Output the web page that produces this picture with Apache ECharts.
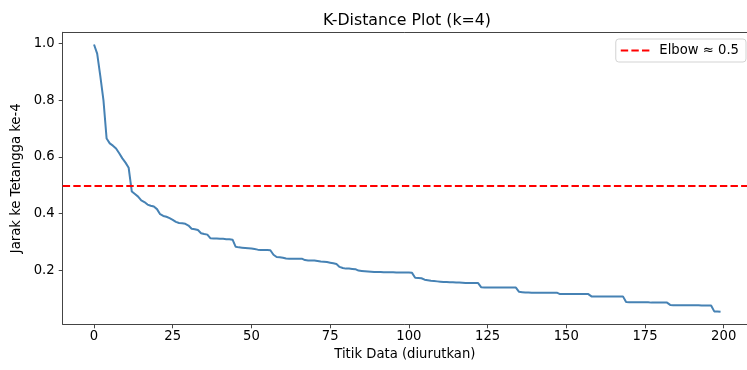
<!DOCTYPE html>
<html>
<head>
<meta charset="utf-8">
<script src="https://cdn.jsdelivr.net/npm/echarts@6/dist/echarts.min.js"></script>
<style>
  html, body { margin: 0; padding: 0; background: #fff; }
  #chart { width: 747px; height: 370px; }
</style>
</head>
<body>
<div id="chart"></div>
<script>
// k-distance values, sorted descending (index = titik data)
const kDist = [
  0.997, 0.965, 0.885, 0.800, 0.665, 0.648, 0.640, 0.630, 0.613, 0.595,
  0.580, 0.562, 0.478, 0.469, 0.460, 0.447, 0.441, 0.432, 0.428, 0.425,
  0.416, 0.398, 0.392, 0.389, 0.384, 0.378, 0.371, 0.367, 0.366, 0.364,
  0.358, 0.347, 0.345, 0.342, 0.331, 0.328, 0.326, 0.313, 0.312, 0.312,
  0.311, 0.311, 0.310, 0.310, 0.308, 0.283, 0.281, 0.280, 0.279, 0.278,
  0.277, 0.275, 0.273, 0.272, 0.272, 0.272, 0.271, 0.255, 0.247, 0.246,
  0.244, 0.242, 0.241, 0.241, 0.241, 0.241, 0.241, 0.236, 0.235, 0.235,
  0.235, 0.233, 0.231, 0.230, 0.229, 0.227, 0.225, 0.222, 0.212, 0.208,
  0.206, 0.206, 0.205, 0.204, 0.199, 0.198, 0.197, 0.196, 0.195, 0.194,
  0.194, 0.194, 0.193, 0.193, 0.193, 0.193, 0.192, 0.192, 0.192, 0.192,
  0.192, 0.191, 0.174, 0.173, 0.172, 0.167, 0.165, 0.163, 0.162, 0.161,
  0.160, 0.159, 0.159, 0.158, 0.158, 0.157, 0.157, 0.156, 0.155, 0.155,
  0.155, 0.155, 0.155, 0.140, 0.139, 0.139, 0.139, 0.139, 0.139, 0.139,
  0.139, 0.139, 0.139, 0.139, 0.139, 0.124, 0.123, 0.122, 0.122, 0.121,
  0.121, 0.121, 0.121, 0.121, 0.121, 0.121, 0.121, 0.121, 0.116, 0.116,
  0.116, 0.116, 0.116, 0.116, 0.116, 0.116, 0.116, 0.116, 0.108, 0.108,
  0.108, 0.108, 0.108, 0.108, 0.108, 0.108, 0.108, 0.108, 0.108, 0.088,
  0.087, 0.087, 0.087, 0.087, 0.087, 0.087, 0.087, 0.086, 0.086, 0.086,
  0.086, 0.086, 0.086, 0.078, 0.077, 0.077, 0.077, 0.077, 0.077, 0.077,
  0.077, 0.077, 0.077, 0.076, 0.076, 0.076, 0.076, 0.055, 0.055, 0.054
];
const elbow = 0.5;
const xTicks = [0, 25, 50, 75, 100, 125, 150, 175, 200];
const yTicks = [0.2, 0.4, 0.6, 0.8, 1.0];

const FONT = 'DejaVu Sans';
const AXIS_COLOR = '#444';
const SMALL = 13.2;
// x range: the plot frame is cut by the right edge of the picture
const X_MIN = -9.95;
const X_MAX = 207.4;

// dashed legend handle, three dashes like matplotlib's
const dashIcon = 'path://M0,0h7.4v2h-7.4z M10.6,0h7.4v2h-7.4z M21.2,0h7.4v2h-7.4z';

let chart = echarts.init(document.getElementById('chart'), null, { renderer: 'canvas' });

const option = {
  animation: false,
  textStyle: { fontFamily: FONT },
  title: {
    text: 'K-Distance Plot (k=4)',
    left: 402,
    top: 8,
    textAlign: 'center',
    textStyle: { fontFamily: FONT, fontSize: 15.8, fontWeight: 'normal', color: '#000' }
  },
  legend: {
    data: [{ name: 'Elbow ≈ 0.5', icon: dashIcon }],
    right: 1,
    top: 39,
    itemWidth: 28.6,
    itemHeight: 2,
    itemGap: 0,
    padding: [5, 7, 5, 5],
    borderColor: '#d3d3d3',
    borderWidth: 1,
    borderRadius: 3,
    backgroundColor: '#fff',
    itemStyle: { color: '#ff0000' },
    textStyle: { fontFamily: FONT, fontSize: SMALL, color: '#000', padding: [0, 0, 0, 5] }
  },
  grid: {
    left: 62.7,
    top: 32.3,
    bottom: 45.7,
    right: 0,
    show: false
  },
  xAxis: [
    {
      type: 'value',
      min: X_MIN,
      max: X_MAX,
      name: 'Titik Data (diurutkan)',
      nameLocation: 'middle',
      nameGap: 22,
      nameTextStyle: { fontFamily: FONT, fontSize: SMALL, color: '#000' },
      axisLine: { show: true, onZero: false, lineStyle: { color: AXIS_COLOR, width: 1 } },
      axisTick: { show: true, length: 4, lineStyle: { color: AXIS_COLOR }, customValues: xTicks },
      axisLabel: {
        margin: 6, fontFamily: FONT, fontSize: SMALL, color: '#000',
        customValues: xTicks
      },
      splitLine: { show: false }
    },
    {
      // top spine only
      type: 'value',
      position: 'top',
      min: X_MIN,
      max: X_MAX,
      axisLine: { show: true, onZero: false, lineStyle: { color: AXIS_COLOR, width: 1 } },
      axisTick: { show: false },
      axisLabel: { show: false },
      splitLine: { show: false }
    }
  ],
  yAxis: {
    type: 'value',
    min: 0.0095,
    max: 1.040,
    name: 'Jarak ke Tetangga ke-4',
    nameLocation: 'middle',
    nameGap: 38,
    nameTextStyle: { fontFamily: FONT, fontSize: SMALL, color: '#000' },
    axisLine: { show: true, onZero: false, lineStyle: { color: AXIS_COLOR, width: 1 } },
    axisTick: { show: true, length: 4, lineStyle: { color: AXIS_COLOR }, customValues: yTicks },
    axisLabel: {
      margin: 8, fontFamily: FONT, fontSize: SMALL, color: '#000',
      customValues: yTicks,
      formatter: v => v.toFixed(1)
    },
    splitLine: { show: false }
  },
  series: [
    {
      name: 'k-distance',
      type: 'line',
      data: kDist.map((v, i) => [i, v]),
      showSymbol: false,
      symbol: 'none',
      lineStyle: { color: '#4682b4', width: 2 },
      itemStyle: { color: '#4682b4' },
      z: 2
    },
    {
      name: 'Elbow ≈ 0.5',
      type: 'line',
      data: [],
      symbol: 'none',
      color: '#ff0000',
      lineStyle: { color: '#ff0000', width: 2, type: [7.4, 3.2] },
      itemStyle: { color: '#ff0000' },
      markLine: {
        silent: true,
        symbol: 'none',
        animation: false,
        label: { show: false },
        lineStyle: { color: '#ff0000', width: 2, type: [7.4, 3.2] },
        data: [{ yAxis: elbow }]
      },
      z: 3
    }
  ]
};

chart.setOption(option);
window.addEventListener('resize', chart.resize);
</script>
</body>
</html>
